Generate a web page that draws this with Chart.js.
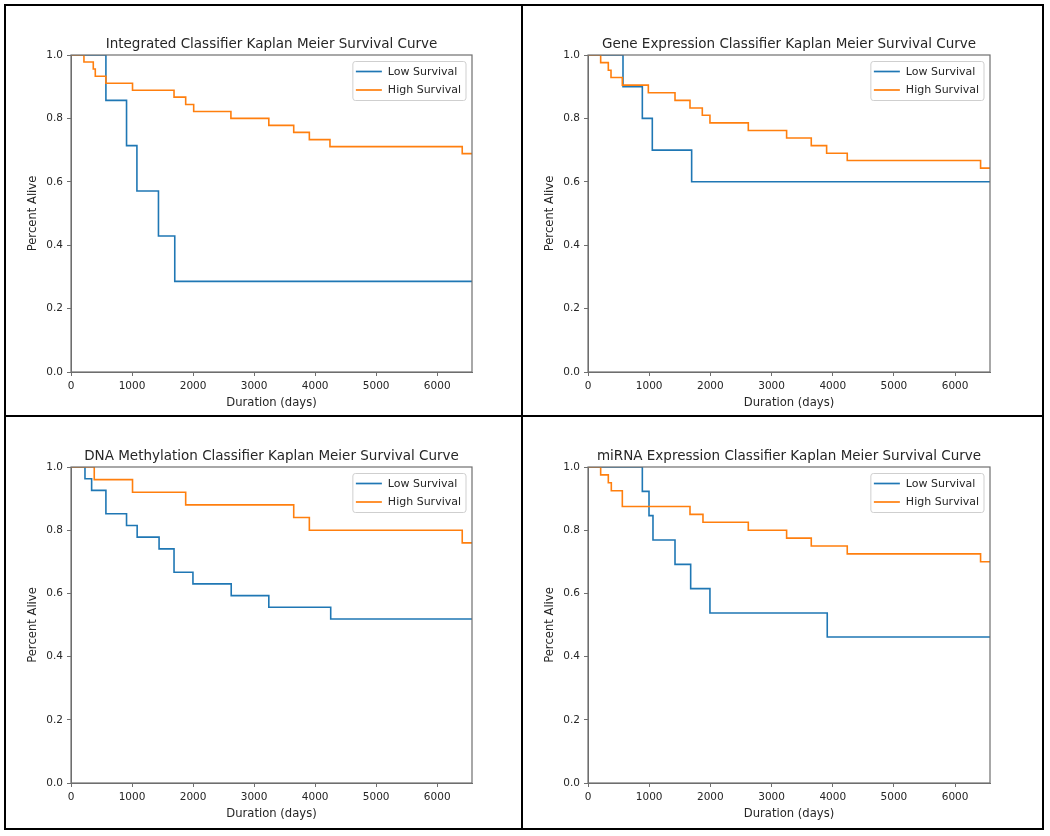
<!DOCTYPE html>
<html><head><meta charset="utf-8">
<script src="https://cdn.jsdelivr.net/npm/chart.js@4.4.1/dist/chart.umd.min.js"></script>
<style>
html,body{margin:0;padding:0;background:#fff;}
#page{position:relative;width:1050px;height:836px;overflow:hidden;background:#fff;}
.frame{position:absolute;background:#000;}
canvas{position:absolute;}
</style></head><body>
<div id="page">
  <div class="frame" style="left:4px;top:4px;width:1040px;height:2px"></div>
  <div class="frame" style="left:4px;top:828px;width:1040px;height:2px"></div>
  <div class="frame" style="left:4px;top:4px;width:2px;height:826px"></div>
  <div class="frame" style="left:1042px;top:4px;width:2px;height:826px"></div>
  <div class="frame" style="left:521px;top:4px;width:2px;height:826px"></div>
  <div class="frame" style="left:4px;top:415px;width:1040px;height:2px"></div>
  <canvas id="c1"></canvas>
  <canvas id="c2"></canvas>
  <canvas id="c3"></canvas>
  <canvas id="c4"></canvas>
</div>
<script>
// ---- tick labels / axes ----
const xTickValues = [0, 1000, 2000, 3000, 4000, 5000, 6000];
const yTickValues = [0, 0.2, 0.4, 0.6, 0.8, 1.0];
const maxDays = 6570;
const seriesNames = ['Low Survival', 'High Survival'];
const panelTitles = [
  'Integrated Classifier Kaplan Meier Survival Curve',
  'Gene Expression Classifier Kaplan Meier Survival Curve',
  'DNA Methylation Classifier Kaplan Meier Survival Curve',
  'miRNA Expression Classifier Kaplan Meier Survival Curve'
];

// ---- Integrated classifier ----
const integratedLowDays  = [0, 572, 910, 1080, 1433, 1700, 6570];
const integratedLowSurv  = [1, 0.857, 0.714, 0.571, 0.429, 0.286, 0.286];
const integratedHighDays = [0, 212, 365, 398, 572, 1008, 1688, 1879, 2010, 2620, 3241, 3649, 3905, 4243, 6410, 6570];
const integratedHighSurv = [1, 0.978, 0.956, 0.933, 0.911, 0.889, 0.867, 0.844, 0.822, 0.800, 0.778, 0.756, 0.733, 0.711, 0.689, 0.689];

// ---- Gene expression classifier ----
const geneLowDays  = [0, 572, 888, 1051, 1694, 6570];
const geneLowSurv  = [1, 0.9, 0.8, 0.7, 0.6, 0.6];
const geneHighDays = [0, 207, 332, 376, 561, 986, 1422, 1667, 1868, 1993, 2620, 3246, 3649, 3900, 4237, 6416, 6570];
const geneHighSurv = [1, 0.976, 0.952, 0.929, 0.905, 0.881, 0.857, 0.833, 0.810, 0.786, 0.762, 0.738, 0.714, 0.690, 0.667, 0.643, 0.643];

// ---- DNA methylation classifier ----
const methLowDays  = [0, 229, 338, 572, 910, 1084, 1443, 1688, 1998, 2625, 3241, 4255, 6570];
const methLowSurv  = [1, 0.963, 0.926, 0.852, 0.815, 0.778, 0.741, 0.667, 0.630, 0.593, 0.556, 0.519, 0.519];
const methHighDays = [0, 381, 1008, 1879, 3649, 3905, 6410, 6570];
const methHighSurv = [1, 0.96, 0.92, 0.88, 0.84, 0.80, 0.76, 0.76];

// ---- miRNA expression classifier ----
const mirnaLowDays  = [0, 888, 997, 1062, 1422, 1678, 1993, 3910, 6570];
const mirnaLowSurv  = [1, 0.923, 0.846, 0.769, 0.692, 0.615, 0.538, 0.462, 0.462];
const mirnaHighDays = [0, 207, 332, 381, 561, 1667, 1879, 2620, 3246, 3649, 4237, 6416, 6570];
const mirnaHighSurv = [1, 0.975, 0.95, 0.925, 0.875, 0.85, 0.825, 0.8, 0.775, 0.75, 0.725, 0.7, 0.7];

const LOW_COLOR = '#1f77b4';
const HIGH_COLOR = '#ff7f0e';
const SPINE = '#6f6f6f';
const TEXT = '#262626';
const FONT = '"DejaVu Sans", sans-serif';

Chart.defaults.font.family = FONT;
Chart.defaults.font.size = 10.5;
Chart.defaults.color = TEXT;

const pts = (d, s) => d.map((x, i) => ({x: x, y: s[i]}));

// plot-area rectangles in page pixels (layout only)
const areas = [
  {l: 71,  t: 55,  r: 472, b: 372},
  {l: 588, t: 55,  r: 990, b: 372},
  {l: 71,  t: 467, r: 472, b: 783},
  {l: 588, t: 467, r: 990, b: 783}
];
const Y_W = 65, TOP_H = 49, RIGHT_P = 48, X_H = 42;

const framePlugin = {
  id: 'kmFrameLegend',
  afterDatasetsDraw(chart) {
    const ctx = chart.ctx, a = chart.chartArea;
    ctx.save();
    ctx.strokeStyle = SPINE;
    ctx.lineWidth = 1.2;
    ctx.strokeRect(a.left, a.top, a.right - a.left, a.bottom - a.top);
    // legend (matplotlib-style, upper right inside axes)
    ctx.font = '11px ' + FONT;
    const ds = chart.data.datasets;
    const tw = Math.max(...ds.map(d => ctx.measureText(d.label).width));
    const w = 3 + 26 + 6 + tw + 5;
    const h = 39;
    const x = a.right - 6 - w, y = a.top + 6.5;
    ctx.beginPath();
    if (ctx.roundRect) ctx.roundRect(x, y, w, h, 2.5); else ctx.rect(x, y, w, h);
    ctx.fillStyle = 'rgba(255,255,255,0.85)';
    ctx.fill();
    ctx.strokeStyle = '#cfcfcf';
    ctx.lineWidth = 1;
    ctx.stroke();
    ds.forEach((d, i) => {
      const ry = y + 10 + i * 18.5;
      ctx.strokeStyle = d.borderColor;
      ctx.lineWidth = 1.7;
      ctx.beginPath();
      ctx.moveTo(x + 3, ry);
      ctx.lineTo(x + 29, ry);
      ctx.stroke();
      ctx.fillStyle = TEXT;
      ctx.textBaseline = 'middle';
      ctx.textAlign = 'left';
      ctx.fillText(d.label, x + 35, ry + 0.5);
    });
    ctx.restore();
  }
};

function makeChart(id, idx, lowD, lowS, highD, highS) {
  const a = areas[idx];
  const cv = document.getElementById(id);
  const left = a.l - Y_W, top = a.t - TOP_H;
  const width = a.r - left + RIGHT_P, height = a.b - top + X_H;
  cv.width = width; cv.height = height;
  cv.style.left = left + 'px'; cv.style.top = top + 'px';
  cv.style.width = width + 'px'; cv.style.height = height + 'px';
  return new Chart(cv, {
    type: 'line',
    data: {
      datasets: [
        {label: seriesNames[0], data: pts(lowD, lowS), borderColor: LOW_COLOR, backgroundColor: LOW_COLOR,
         borderWidth: 1.6, stepped: true, pointRadius: 0, fill: false, order: 1, clip: 0},
        {label: seriesNames[1], data: pts(highD, highS), borderColor: HIGH_COLOR, backgroundColor: HIGH_COLOR,
         borderWidth: 1.6, stepped: true, pointRadius: 0, fill: false, order: 0, clip: 0}
      ]
    },
    options: {
      responsive: false,
      devicePixelRatio: 1,
      animation: false,
      layout: {padding: {left: 0, top: 0, right: RIGHT_P, bottom: 0}},
      plugins: {
        legend: {display: false},
        tooltip: {enabled: false},
        title: {
          display: true, text: panelTitles[idx], fullSize: false,
          font: {size: 13.5, weight: 'normal', family: FONT}, color: TEXT,
          padding: {top: 29.9, bottom: 2.9}
        }
      },
      scales: {
        x: {
          type: 'linear', min: 0, max: maxDays,
          afterBuildTicks: s => { s.ticks = xTickValues.map(v => ({value: v})); },
          afterFit: s => { s.height = X_H; },
          ticks: {callback: v => String(v), padding: 3.7, maxRotation: 0, autoSkip: false, color: TEXT, font: {size: 10.5}},
          grid: {display: true, drawOnChartArea: false, drawTicks: true, tickLength: 4, color: SPINE, lineWidth: 1},
          border: {display: true, color: SPINE, width: 1},
          title: {display: true, text: 'Duration (days)', font: {size: 11.6}, color: TEXT, padding: {top: 0, bottom: 4.5}}
        },
        y: {
          type: 'linear', min: 0, max: 1,
          afterBuildTicks: s => { s.ticks = yTickValues.map(v => ({value: v})); },
          afterFit: s => { s.width = Y_W; },
          ticks: {callback: v => Number(v).toFixed(1), padding: 4, autoSkip: false, color: TEXT, font: {size: 10.5}},
          grid: {display: true, drawOnChartArea: false, drawTicks: true, tickLength: 4, color: SPINE, lineWidth: 1},
          border: {display: true, color: SPINE, width: 1},
          title: {display: true, text: 'Percent Alive', font: {size: 11.6}, color: TEXT, padding: {top: 20, bottom: 0}}
        }
      }
    },
    plugins: [framePlugin]
  });
}

makeChart('c1', 0, integratedLowDays, integratedLowSurv, integratedHighDays, integratedHighSurv);
makeChart('c2', 1, geneLowDays, geneLowSurv, geneHighDays, geneHighSurv);
makeChart('c3', 2, methLowDays, methLowSurv, methHighDays, methHighSurv);
makeChart('c4', 3, mirnaLowDays, mirnaLowSurv, mirnaHighDays, mirnaHighSurv);
</script>
</body></html>
